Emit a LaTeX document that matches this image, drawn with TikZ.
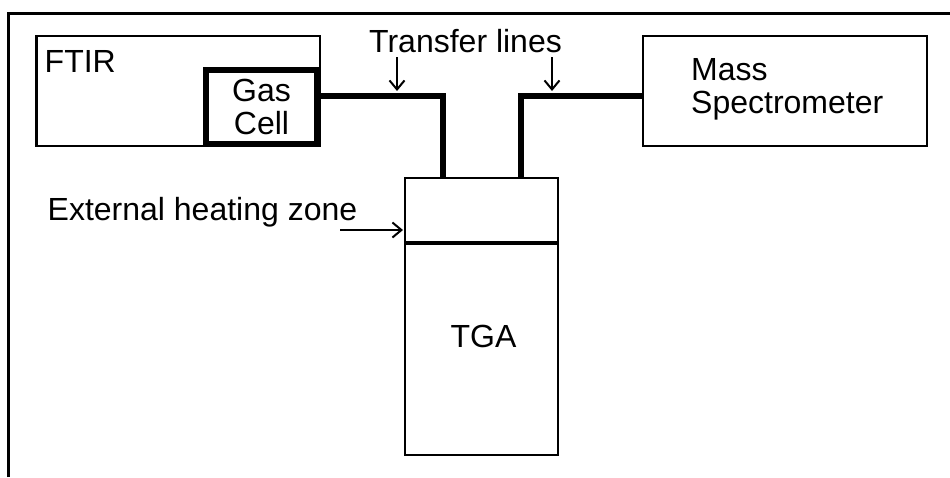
\documentclass[tikz,border=0pt]{standalone}
\usepackage{fontspec}
\setmainfont{Liberation Sans}
\usetikzlibrary{arrows.meta}
\begin{document}
\begin{tikzpicture}[x=1pt,y=-1pt,
  every node/.style={font=\fontsize{32pt}{33pt}\selectfont},
  thinbox/.style={draw, line width=2.5pt, inner sep=0pt},
  thickbox/.style={draw, line width=6pt, inner sep=0pt},
  pipe/.style={line width=6pt, line join=miter},
  pointer/.style={line width=2pt, -{Straight Barb[length=9pt,width=15pt,line width=2pt]}},
  lbl/.style={inner sep=0pt, anchor=base west}]
\useasboundingbox (0,0) rectangle (950,477);
% outer frame (top and left only)
\draw[line width=3pt] (8.5,477) -- (8.5,13.5) -- (950,13.5);
% boxes
\node[thinbox, minimum width=283.5pt, minimum height=110pt] (ftir) at (178.25,91) {};
\node[thickbox, minimum width=111pt, minimum height=74pt, align=center] (gas) at (261.5,107) {Gas\\Cell};
\node[thinbox, minimum width=284pt, minimum height=110pt] (ms) at (785,91) {};
\node[draw, line width=2pt, inner sep=0pt, minimum width=153pt, minimum height=277pt] (tga) at (481.5,316.5) {};
\draw[line width=4pt] (tga.west |- 0,243) -- (tga.east |- 0,243);
% labels
\node[lbl] (ftirlbl) at (44.5,72) {FTIR};
\node[lbl, align=left] (mslbl) at (691,113.5) {Mass\\Spectrometer};
\node[inner sep=0pt, anchor=base] (tgalbl) at (483.5,347) {TGA};
\node[lbl] (translbl) at (369,52) {Transfer lines};
\node[lbl] (heatlbl) at (47.5,220) {External heating zone};
% transfer lines
\coordinate (t1) at (443,96);
\coordinate (t2) at (521,96);
\draw[pipe] (gas.east |- t1) -- (t1) -- (tga.north -| t1);
\draw[pipe] (tga.north -| t2) -- (t2) -- (ms.west |- t2);
% pointers
\coordinate (a1s) at (397,57);
\coordinate (a1e) at (397,91);
\coordinate (a2s) at (552,57);
\coordinate (a2e) at (552,91);
\coordinate (a3s) at (340,230);
\coordinate (a3e) at (403,230);
\draw[pointer] (a1s) -- (a1e);
\draw[pointer] (a2s) -- (a2e);
\draw[pointer] (a3s) -- (a3e);
\end{tikzpicture}
\end{document}
